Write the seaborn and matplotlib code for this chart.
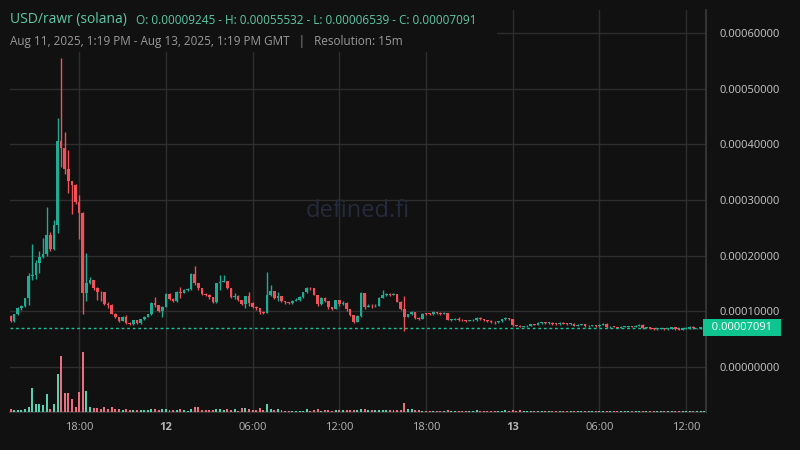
import numpy as np
import pandas as pd
import seaborn as sns
import matplotlib.pyplot as plt
from matplotlib.patches import Rectangle
from matplotlib import transforms

# 15m candles, prices in units of 1e-5 USD
close = [8.2, 9.5, 10.6, 10.9, 12.3, 16.3, 16.5, 18.7, 19.8, 20.2,
         23.7, 21.2, 25.5, 40.6, 39.4, 35.5, 33.4, 32.6, 29.7, 27.7,
         13.2, 15.0, 15.6, 14.1, 13.5, 13.4, 11.3, 11.2, 9.6, 9.0,
         8.3, 9.0, 7.95, 7.8, 8.4, 7.95, 8.55, 9.0, 9.5, 11.5,
         11.1, 10.05, 10.8, 13.1, 12.2, 11.8, 13.5, 13.3, 13.9, 14.0,
         16.7, 15.0, 14.2, 13.1, 13.0, 12.6, 11.7, 15.0, 15.3, 15.4,
         14.2, 12.6, 12.8, 12.1, 11.3, 12.7, 11.5, 10.8, 10.6, 9.9,
         9.75, 12.9, 13.6, 12.4, 12.7, 11.9, 11.6, 11.5, 11.9, 12.1,
         12.6, 13.4, 14.2, 14.1, 13.0, 11.3, 12.4, 11.9, 10.7, 10.5,
         12.0, 11.3, 11.5, 10.35, 9.3, 8.1, 9.15, 13.3, 10.8, 11.0,
         10.9, 11.0, 12.4, 12.9, 13.1, 13.0, 13.1, 11.7, 10.5, 9.0,
         9.45, 9.9, 8.85, 8.7, 9.6, 9.55, 9.5, 9.9, 9.7, 9.6,
         9.65, 8.5, 8.5, 8.7, 8.5, 8.4, 8.3, 8.4, 8.5, 8.8,
         8.6, 8.35, 8.3, 8.1, 8.0, 8.2, 8.55, 8.75, 8.6, 7.5,
         7.45, 7.2, 7.3, 7.45, 7.7, 7.6, 7.9, 8.0, 7.9, 7.95,
         7.8, 7.7, 7.95, 7.8, 7.75, 7.8, 7.4, 7.6, 7.7, 7.3,
         7.45, 7.5, 7.3, 7.6, 7.8, 7.1, 7.25, 7.2, 7.05, 7.2,
         7.25, 7.35, 7.25, 7.4, 7.6, 7.05, 7.15, 7.0, 6.8, 6.9,
         6.95, 6.8, 6.9, 7.2, 6.8, 6.6, 6.95, 7.0, 7.25, 6.95,
         7.0, 7.05, 7.091]

high = [9.4, 9.6, 10.7, 11.2, 12.4, 16.9, 22.1, 19.2, 20.8, 23.2,
        28.7, 24.2, 26.4, 44.7, 55.532, 42.2, 39.0, 33.0, 32.8, 30.9,
        27.9, 20.5, 16.2, 15.7, 14.3, 13.6, 13.5, 11.7, 11.3, 9.7,
        9.0, 9.2, 9.3, 8.1, 8.5, 8.5, 8.7, 9.1, 9.6, 11.6,
        12.5, 11.2, 10.9, 13.2, 13.2, 12.3, 13.6, 14.4, 14.0, 14.1,
        16.8, 18.1, 15.1, 14.2, 13.2, 13.1, 12.6, 15.1, 16.5, 16.5,
        15.5, 14.2, 13.3, 12.9, 12.1, 12.8, 13.5, 11.6, 10.9, 10.6,
        10.0, 17.0, 14.7, 13.6, 13.5, 12.7, 11.9, 11.7, 12.0, 12.3,
        12.7, 13.5, 14.4, 14.3, 14.1, 13.0, 12.5, 12.5, 11.9, 10.8,
        12.1, 12.0, 11.8, 11.6, 10.4, 9.3, 9.3, 13.4, 13.3, 11.3,
        11.3, 11.4, 12.5, 13.8, 13.2, 13.3, 13.3, 13.1, 11.8, 12.7,
        9.6, 10.0, 9.9, 8.9, 9.7, 9.7, 9.7, 10.1, 9.9, 9.8,
        9.8, 9.7, 8.6, 8.8, 8.9, 8.6, 8.5, 8.5, 8.6, 8.9,
        8.9, 8.7, 8.4, 8.4, 8.2, 8.3, 8.7, 9.0, 8.8, 8.6,
        7.6, 7.5, 7.4, 7.5, 7.8, 7.8, 8.0, 8.1, 8.1, 8.0,
        8.0, 7.85, 8.0, 8.0, 7.9, 7.9, 7.85, 7.7, 7.8, 7.75,
        7.5, 7.6, 7.55, 7.7, 7.9, 7.85, 7.3, 7.35, 7.25, 7.3,
        7.3, 7.4, 7.4, 7.5, 7.7, 7.65, 7.2, 7.2, 7.05, 6.95,
        7.0, 7.0, 6.95, 7.25, 7.25, 6.85, 7.0, 7.1, 7.3, 7.3,
        7.05, 7.15, 7.15]

low = [8.0, 8.1, 9.3, 10.3, 10.8, 11.1, 15.6, 15.8, 16.9, 19.5,
       20.0, 20.8, 21.0, 24.1, 35.9, 34.6, 31.2, 27.5, 29.2, 23.0,
       9.5, 11.9, 14.9, 13.9, 12.0, 11.9, 11.1, 10.6, 9.5, 8.8,
       8.0, 8.2, 7.8, 7.6, 7.6, 7.8, 7.7, 8.5, 8.9, 9.4,
       10.8, 9.9, 9.0, 10.7, 12.0, 11.6, 11.7, 12.3, 13.2, 13.7,
       13.8, 14.8, 13.8, 12.9, 12.7, 12.2, 11.5, 11.5, 13.8, 15.2,
       14.0, 12.4, 12.2, 11.9, 11.1, 10.6, 10.9, 10.6, 10.3, 9.6,
       9.5, 9.7, 12.7, 12.2, 11.8, 11.6, 11.4, 11.3, 11.4, 11.8,
       11.9, 12.4, 13.3, 13.9, 12.9, 11.0, 11.2, 11.7, 10.5, 10.2,
       10.4, 11.0, 11.1, 10.1, 9.1, 7.9, 8.0, 9.0, 10.5, 10.7,
       10.6, 10.7, 10.9, 12.3, 12.8, 12.8, 12.9, 11.6, 10.3, 6.539,
       8.9, 9.3, 8.6, 8.5, 8.6, 9.4, 9.3, 9.4, 9.5, 9.4,
       9.5, 8.4, 8.3, 8.4, 8.3, 8.2, 8.1, 8.2, 8.3, 8.3,
       8.4, 8.2, 8.1, 7.9, 7.8, 7.9, 8.1, 8.5, 8.4, 7.4,
       7.3, 7.1, 7.1, 7.2, 7.3, 7.5, 7.5, 7.8, 7.7, 7.8,
       7.6, 7.6, 7.6, 7.7, 7.6, 7.6, 7.3, 7.3, 7.5, 7.2,
       7.2, 7.3, 7.2, 7.2, 7.5, 7.0, 7.0, 7.1, 6.95, 7.0,
       7.1, 7.1, 7.1, 7.2, 7.3, 6.9, 6.95, 6.9, 6.7, 6.7,
       6.8, 6.7, 6.6, 6.8, 6.7, 6.58, 6.6, 6.8, 6.9, 6.85,
       6.85, 6.9, 6.95]

# volume, arbitrary units
volume = [3, 2, 2, 1.7, 3, 5, 24, 8, 8, 7,
          18, 3, 8, 38, 56, 19, 19, 13, 5, 20,
          60, 21, 5, 4, 4, 3, 5, 3, 5, 3,
          3, 2, 3, 2, 2, 2, 2, 2, 2, 3,
          3, 2, 3, 3, 2, 2, 2, 3, 2, 1,
          3, 5, 5, 2, 2, 2, 2, 3, 3, 2,
          3.5, 2, 3.5, 1, 4, 4, 3.5, 2, 1.7, 4,
          2, 8, 3, 1.7, 3, 1.7, 1, 1, 1, 1,
          1, 1, 3, 1.5, 2, 3, 1.5, 2, 2, 1.5,
          2, 2, 2, 2.5, 2, 2, 2, 3.5, 3, 2,
          2, 2, 2.5, 2.5, 2, 2, 2, 2, 2.5, 9,
          3, 3, 2.5, 2, 1.5, 1, 1, 1.5, 1, 1,
          1, 2, 1, 1, 1, 1, 1, 1, 1, 2,
          1, 1, 1, 1, 1, 1, 1, 2, 1, 2,
          1, 2, 1, 1, 1, 1, 1, 1, 1, 1,
          1, 1, 1, 1, 1, 1, 1, 1, 1, 1,
          1, 1, 1, 1, 1, 1, 1, 1, 1, 1,
          1, 1, 1, 1, 1, 1, 1, 1, 1, 1,
          1, 1, 1, 1, 1, 1, 1, 1, 1, 1,
          1, 1, 1]

first_open = 9.245
unit = 1e-5
last_price = 0.00007091

tick_pos = [19, 43, 67, 91, 115, 139, 163, 187]
tick_labels = ["18:00", "12", "06:00", "12:00", "18:00", "13", "06:00", "12:00"]
price_ticks = [0.0, 0.0001, 0.0002, 0.0003, 0.0004, 0.0005, 0.0006]

bg = "#111111"
grid_c = "#2e2e2e"
up_c, down_c = "#22ab94", "#f0525a"
vol_up, vol_down = "#5ccfae", "#ec6f7d"

df = pd.DataFrame({"close": np.array(close) * unit,
                   "high": np.array(high) * unit,
                   "low": np.array(low) * unit,
                   "volume": volume})
df["open"] = np.r_[first_open, close[:-1]] * unit
df["idx"] = np.arange(len(df))
df["dir"] = np.where(df["close"] >= df["open"], "up", "down")

sns.set_theme(style="dark", rc={"axes.facecolor": bg, "figure.facecolor": bg,
                                "axes.edgecolor": "#3a3a3a", "grid.color": grid_c})
plt.rcParams["font.family"] = ["Open Sans", "DejaVu Sans"]

fig = plt.figure(figsize=(8, 4.5), dpi=100)
ax = fig.add_axes([10 / 800, 38 / 450, 696 / 800, 402 / 450])

# volume pane
axv = ax.twinx()
sns.barplot(data=df, x="idx", y="volume", hue="dir", native_scale=True,
            palette={"up": vol_up, "down": vol_down}, dodge=False, width=0.55,
            saturation=1, errorbar=None, legend=False, linewidth=0, ax=axv)
axv.set_ylim(0, df["volume"].max() * 6.7)
axv.set_yticks([])
axv.set_ylabel("")
axv.set_xlabel("")
for s in axv.spines.values():
    s.set_visible(False)

# candles
colors = np.where(df["dir"] == "up", up_c, down_c)
ax.vlines(df["idx"], df["low"], df["high"], colors=colors, lw=1, zorder=3)
body_lo = np.minimum(df["open"], df["close"])
body_h = np.maximum((df["open"] - df["close"]).abs(), 0.12 * unit)
ax.bar(df["idx"], body_h, bottom=body_lo, width=0.72, color=colors,
       linewidth=0, zorder=4)

ax.axhline(last_price, color="#17c497", lw=1, ls=(0, (2, 2)), zorder=2)

ax.set_xlim(-0.15, 192.5)
ax.set_ylim(-0.0000808, 0.000641)
ax.set_xticks(tick_pos)
ax.set_xticklabels(tick_labels)
for lab in ax.get_xticklabels():
    if lab.get_text() in ("12", "13"):
        lab.set_fontweight("bold")
        lab.set_color("#dddddd")
ax.set_yticks(price_ticks)
ax.set_yticklabels([f"{v:.8f}" for v in price_ticks])
ax.yaxis.tick_right()
ax.tick_params(axis="y", length=0, pad=10, labelsize=8, labelcolor="#c8c8c8")
ax.tick_params(axis="x", length=0, pad=7, labelsize=8, labelcolor="#b4b4b4")
ax.grid(True, color=grid_c, lw=1)
ax.set_axisbelow(True)
ax.spines["top"].set_visible(False)
ax.spines["left"].set_visible(False)
ax.spines["right"].set_color("#3a3a3a")
ax.spines["bottom"].set_color("#3a3a3a")

# last price tag
trans = transforms.blended_transform_factory(ax.transAxes, ax.transData)
ax.text(1.0, last_price, "  0.00007091  ", transform=trans, ha="left", va="center",
        fontsize=8, color="white", zorder=10,
        bbox=dict(boxstyle="square,pad=0.25", fc="#10c48f", ec="none"))

ax.text(0.5, 0.5, "defined.fi", transform=ax.transAxes, ha="center", va="center",
        fontsize=17, color="#252a3c", zorder=1)

# header
fig.add_artist(Rectangle((0, 1 - 52 / 450), 497 / 800, 52 / 450,
                         transform=fig.transFigure, fc=bg, ec="none", zorder=5))
fig.text(10 / 800, 1 - 20 / 450, "USD/rawr (solana)", fontsize=10,
         color="#5cc9a7", va="center", zorder=6)
fig.text(136 / 800, 1 - 20 / 450,
         "O: 0.00009245 - H: 0.00055532 - L: 0.00006539 - C: 0.00007091",
         fontsize=8.5, color="#5cc9a7", va="center", zorder=6)
fig.text(10 / 800, 1 - 41 / 450,
         "Aug 11, 2025, 1:19 PM - Aug 13, 2025, 1:19 PM GMT   |   Resolution: 15m",
         fontsize=8.5, color="#9a9a9a", va="center", zorder=6)

fig.savefig("out.png", dpi=100, facecolor=bg)
